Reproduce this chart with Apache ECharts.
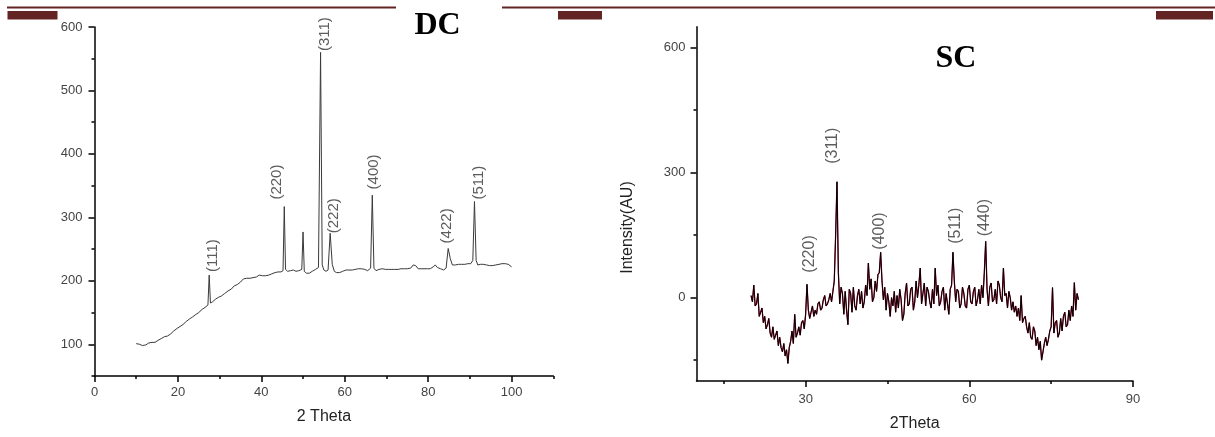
<!DOCTYPE html>
<html>
<head>
<meta charset="utf-8">
<script src="https://cdn.jsdelivr.net/npm/echarts@6/dist/echarts.min.js"></script>
<style>
  html, body { margin: 0; padding: 0; background: #fff; }
  #main { width: 1215px; height: 437px; }
</style>
</head>
<body>
<div id="main"></div>
<script>
// DC pattern (left panel)
const dcTheta = [10,10.8,11.5,12.3,13,13.8,14.5,15.2,16,16.8,17.5,18.2,19,19.8,20.5,21.2,22,22.8,23.5,24.3,25,25.8,26.5,27.2,27.5,27.8,28.3,29,29.7,30.4,31.2,32,32.8,33.5,34.2,35,35.7,36.5,37.3,38,38.8,39.5,40.3,41,41.8,42.5,43.3,44,44.7,45.2,45.5,45.8,46.3,47,47.7,48.3,49,49.7,50,50.3,50.8,51.5,52.2,53,53.7,54.2,54.6,55,55.5,56,56.5,57,57.5,58,58.8,59.5,60.3,61,61.8,62.5,63.3,64,64.8,65.5,66.2,66.6,67,67.5,68.2,69,69.8,70.5,71.3,72,72.8,73.5,74.3,75,75.8,76.4,77,77.6,78.3,79,79.8,80.5,81.2,81.7,82.2,83,83.7,84.3,84.8,85.3,85.8,86.5,87.3,88,88.8,89.5,90.2,90.7,91.1,91.5,91.9,92.5,93.2,94,94.7,95.5,96.2,97,97.7,98.5,99.2,100];
const dcIntensity = [101,100,98,99,102,103,103,106,109,112,113,116,121,125,128,131,136,140,143,147,150,155,158,162,209,165,167,171,174,176,180,184,187,192,194,198,203,204,204,205,206,209,208,208,209,211,213,214,214,216,317,218,215,216,217,215,216,218,277,215,212,212,215,218,221,560,225,217,215,217,275,226,215,213,213,215,217,217,217,218,219,219,218,216,220,335,220,216,218,219,218,218,218,218,218,219,219,219,220,225,224,219,219,219,219,219,222,225,221,219,217,220,251,235,225,225,226,226,226,227,227,232,325,232,225,226,226,225,224,224,225,226,227,227,226,222];
const dcLabels = ['(111)','(220)','(311)','(222)','(400)','(422)','(511)'];
const dcLabelTheta = [28.3,43.7,55.2,57.5,66.9,84.6,92.1];
const dcLabelIntensity = [214,328,562,275,344,259,328];
const dcXTicks = [0,20,40,60,80,100];
const dcXMinor = [10,30,50,70,90,110];
const dcYTicks = [100,200,300,400,500,600];
const dcYMinor = [50,150,250,350,450,550];

// SC pattern (right panel)
const scTheta = [20,20.25,20.5,20.75,21,21.25,21.5,21.75,22,22.25,22.5,22.75,23,23.25,23.5,23.75,24,24.25,24.5,24.75,25,25.25,25.5,25.75,26,26.25,26.5,26.75,27,27.25,27.5,27.75,28,28.25,28.5,28.75,29,29.25,29.5,29.75,30,30.25,30.5,30.75,31,31.25,31.5,31.75,32,32.25,32.5,32.75,33,33.25,33.5,33.75,34,34.25,34.5,34.75,35,35.25,35.5,35.75,36,36.25,36.5,36.75,37,37.25,37.5,37.75,38,38.25,38.5,38.75,39,39.25,39.5,39.75,40,40.25,40.5,40.75,41,41.25,41.5,41.75,42,42.25,42.5,42.75,43,43.25,43.5,43.75,44,44.25,44.5,44.75,45,45.25,45.5,45.75,46,46.25,46.5,46.75,47,47.25,47.5,47.75,48,48.25,48.5,48.75,49,49.25,49.5,49.75,50,50.25,50.5,50.75,51,51.25,51.5,51.75,52,52.25,52.5,52.75,53,53.25,53.5,53.75,54,54.25,54.5,54.75,55,55.25,55.5,55.75,56,56.25,56.5,56.75,57,57.25,57.5,57.75,58,58.25,58.5,58.75,59,59.25,59.5,59.75,60,60.25,60.5,60.75,61,61.25,61.5,61.75,62,62.25,62.5,62.75,63,63.25,63.5,63.75,64,64.25,64.5,64.75,65,65.25,65.5,65.75,66,66.25,66.5,66.75,67,67.25,67.5,67.75,68,68.25,68.5,68.75,69,69.25,69.5,69.75,70,70.25,70.5,70.75,71,71.25,71.5,71.75,72,72.25,72.5,72.75,73,73.25,73.5,73.75,74,74.25,74.5,74.75,75,75.25,75.5,75.75,76,76.25,76.5,76.75,77,77.25,77.5,77.75,78,78.25,78.5,78.75,79,79.25,79.5,79.75,80];
const scIntensity = [
  5,-10,30,-20, -15,10,-45,-35, -25,-60,-45,-75, -65,-50,-85,-95, -70,-100,-90,-80,
  -115,-95,-120,-130, -110,-140,-125,-158, -120,-105,-80,-110, -40,-95,-85,-70, -90,-60,-55,-75,
  -40,32,-30,-50, -35,-20,-45,-30, -40,-15,-10,-30, -25,-5,5,-20, -15,-5,10,-10,
  15,40,150,278, 60,-15,25,10, -40,15,-30,-65, 20,10,-35,25, -20,-30,5,20,
  -15,15,-25,-10, 30,5,83,20, 45,-10,0,40, 15,55,60,109, 40,-5,25,-30,
  10,-10,-45,0, -20,15,-35,5, -25,20,-5,-55, -40,10,35,-20, -15,20,25,-30,
  -10,40,0,30, 71,-15,10,35, -20,25,15,-10, -25,20,-15,71, 5,30,-20,-10,
  15,25,-30,10, -15,-40,20,30, 109,40,-10,20, 15,-25,-15,25, 10,-20,-25,20,
  30,-10,-15,15, 25,-20,-5,20, -15,30,0,60, 135,20,-20,25, 35,-10,-5,20,
  -15,40,30,0, -10,71,5,10, -25,15,0,-30, -10,-35,-20,-45, -25,-55,5,-60,
  -50,-45,-70,-85, -60,-95,-100,-70, -80,-115,-95,-125, -105,-150,-130,-110, -95,-115,-100,-80,
  -70,24,-85,-60, -55,-95,-85,-50, -80,-45,-35,-70, -65,-30,-55,-20, -45,36,-30,10,
  -5
];
const scLabels = ['(220)','(311)','(400)','(511)','(440)'];
const scLabelTheta = [30.7,34.9,43.5,57.5,62.8];
const scLabelIntensity = [60,321,115,129,147];
const scXTicks = [30,60,90];
const scXMinor = [15,45,75];
const scYTicks = [0,300,600];
const scYMinor = [-150,150,450];

const zip = (a, b) => a.map((v, i) => [v, b[i]]);

const font = 'Arial, "Liberation Sans", sans-serif';
const axisColor = '#000';
const brown = '#632523';

function mainAxis(pos, gridIndex, min, max, ticks, margin) {
  return {
    type: 'value', gridIndex, position: pos, min, max,
    splitLine: { show: false },
    axisLine: { show: true, onZero: false, lineStyle: { color: axisColor, width: 1.5 } },
    axisTick: { show: true, inside: false, length: 6, customValues: ticks, lineStyle: { color: axisColor, width: 1.5 } },
    axisLabel: { show: true, customValues: ticks, margin, color: '#444', fontSize: 13, fontFamily: font }
  };
}
function minorAxis(pos, gridIndex, min, max, ticks) {
  return {
    type: 'value', gridIndex, position: pos, min, max, offset: 0,
    splitLine: { show: false },
    axisLine: { show: false, onZero: false },
    axisTick: { show: true, inside: false, length: 3, customValues: ticks, lineStyle: { color: axisColor, width: 1.5 } },
    axisLabel: { show: false }
  };
}
function labelSeries(xi, yi, names, thetas, vals, size) {
  return {
    type: 'scatter', xAxisIndex: xi, yAxisIndex: yi,
    symbolSize: 1, itemStyle: { color: 'transparent' }, silent: true,
    data: names.map((n, i) => ({ value: [thetas[i], vals[i]], name: n })),
    label: {
      show: true, position: 'inside', rotate: 90, align: 'left', verticalAlign: 'middle',
      formatter: p => p.name, color: '#333', fontSize: size, fontFamily: font
    }
  };
}

const chart = echarts.init(document.getElementById('main'), null, { renderer: 'canvas' });
const dcX = mainAxis('bottom', 0, 0, 110, dcXTicks, 10);
dcX.name = '2 Theta'; dcX.nameLocation = 'middle'; dcX.nameGap = 33;
dcX.nameTextStyle = { fontSize: 16, color: '#222', fontFamily: font };
const scX = mainAxis('bottom', 1, 10, 90, scXTicks, 12);
scX.name = '2Theta'; scX.nameLocation = 'middle'; scX.nameGap = 35;
scX.nameTextStyle = { fontSize: 16, color: '#222', fontFamily: font };

chart.setOption({
  animation: false,
  backgroundColor: '#fff',
  grid: [
    { left: 94.5, right: 661.7, top: 27, bottom: 61 },
    { left: 696.5, right: 82, top: 26.7, bottom: 54.3 }
  ],
  xAxis: [
    dcX,
    minorAxis('bottom', 0, 0, 110, dcXMinor),
    scX,
    minorAxis('bottom', 1, 10, 90, scXMinor)
  ],
  yAxis: [
    mainAxis('left', 0, 50, 600, dcYTicks, 12),
    minorAxis('left', 0, 50, 600, dcYMinor),
    mainAxis('left', 1, -200, 650, scYTicks, 11),
    minorAxis('left', 1, -200, 650, scYMinor)
  ],
  series: [
    {
      type: 'line', xAxisIndex: 0, yAxisIndex: 0, data: zip(dcTheta, dcIntensity),
      showSymbol: false, lineStyle: { color: '#3a3a3a', width: 1 }
    },
    labelSeries(0, 0, dcLabels, dcLabelTheta, dcLabelIntensity, 15),
    {
      type: 'line', xAxisIndex: 2, yAxisIndex: 2, data: zip(scTheta, scIntensity),
      showSymbol: false, lineStyle: { color: '#b0103a', width: 1.3 }
    },
    {
      type: 'line', xAxisIndex: 2, yAxisIndex: 2, data: zip(scTheta, scIntensity),
      showSymbol: false, lineStyle: { color: '#000', width: 1 }
    },
    labelSeries(2, 2, scLabels, scLabelTheta, scLabelIntensity, 16)
  ],
  graphic: [
    { type: 'rect', shape: { x: 7, y: 6.5, width: 389, height: 2 }, style: { fill: brown } },
    { type: 'rect', shape: { x: 502, y: 6.5, width: 713, height: 2 }, style: { fill: brown } },
    { type: 'rect', shape: { x: 7.5, y: 11, width: 50, height: 8.5 }, style: { fill: brown } },
    { type: 'rect', shape: { x: 558, y: 11, width: 44, height: 8.5 }, style: { fill: brown } },
    { type: 'rect', shape: { x: 1156, y: 11, width: 57, height: 8.5 }, style: { fill: brown } },
    { type: 'text', x: 437.5, y: 26, style: { text: 'DC', fill: '#000', font: 'bold 32px "Liberation Serif", "Times New Roman", serif', align: 'center', verticalAlign: 'middle' } },
    { type: 'text', x: 956, y: 59, style: { text: 'SC', fill: '#000', font: 'bold 32px "Liberation Serif", "Times New Roman", serif', align: 'center', verticalAlign: 'middle' } },
    { type: 'text', x: 628, y: 227.5, rotation: Math.PI / 2, style: { text: 'Intensity(AU)', fill: '#222', font: '16px Arial, "Liberation Sans", sans-serif', align: 'center', verticalAlign: 'middle' } }
  ]
});
window.onresize = function () { chart.resize(); };
</script>
</body>
</html>
